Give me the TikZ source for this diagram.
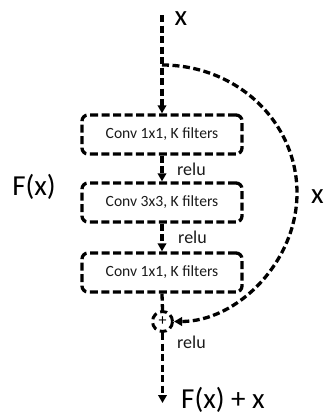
\documentclass[tikz,border=0pt]{standalone}
\usepackage{fontspec}
\setmainfont{Carlito}
\usetikzlibrary{arrows.meta}
\definecolor{ink}{HTML}{1A1A1A}
\tikzset{
  dashline/.style={line width=3.3pt, dash pattern=on 7pt off 3.5pt, draw=black},
  arrowline/.style={dashline, -{Triangle[length=8pt,width=8.5pt]}},
  layerbox/.style={dashline, dash pattern=on 8pt off 3.5pt, rounded corners=6pt,
    minimum width=160pt, minimum height=39pt,
    inner sep=0pt, font=\fontsize{15.6}{16}\selectfont, text=ink},
  biglabel/.style={font=\fontsize{29}{30}\selectfont, text=black, inner sep=0pt, anchor=base},
  actlabel/.style={font=\fontsize{18}{20}\selectfont, text=ink, inner sep=0pt, anchor=base west},
  sumnode/.style={dashline, line width=3pt, dash pattern=on 7pt off 4pt, circle,
    minimum size=20pt, inner sep=0pt, font=\fontsize{16}{16}\selectfont},
}
\begin{document}
\begin{tikzpicture}[x=1pt, y=-1pt]
\useasboundingbox (0,0) rectangle (324,415);

% input and branch point
\coordinate (in) at (162,15);
\coordinate (split) at (162,65);
\node[biglabel] (xin) at (181,25) {x};

% bottleneck layers
\node[layerbox] (c1) at (162,134.5) {Conv 1x1, K filters};
\node[layerbox] (c2) at (162,202.5) {Conv 3x3, K filters};
\node[layerbox] (c3) at (162,272.5) {Conv 1x1, K filters};

% addition
\node[sumnode] (sum) at (162.5,321.5) {+};
\coordinate (out) at (162.5,403);

% main path
\draw[arrowline] (in) -- (c1.north);
\draw[arrowline] (c1.south) -- (c2.north);
\draw[arrowline] (c2.south) -- (c3.north);
\draw[dashline] (c3.south) -- (sum.north);
\draw[arrowline] (sum.south) -- (out);

% identity shortcut
\draw[arrowline] (split) .. controls (237,65) and (297,122) .. (297,193)
  .. controls (297,262) and (237,321.5) .. (sum.east);

% labels
\node[actlabel] (r1) at (177,175) {relu};
\node[actlabel] (r2) at (178,243) {relu};
\node[actlabel] (r3) at (177,348) {relu};
\node[biglabel] (fx) at (34,195) {F(x)};
\node[biglabel] (xs) at (317.5,203) {x};
\node[biglabel, anchor=base west] (fxx) at (181,408.5) {F(x) + x};
\end{tikzpicture}
\end{document}
